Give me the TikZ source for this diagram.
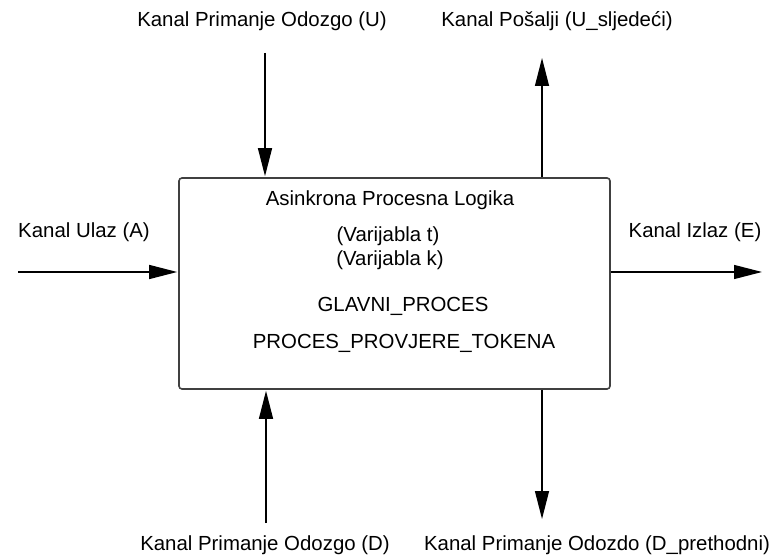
\documentclass[tikz,border=0pt]{standalone}
\usepackage{fontspec}
\setmainfont{Liberation Sans}
\usetikzlibrary{positioning,arrows.meta}

\begin{document}
\begin{tikzpicture}[x=0.5pt,y=-0.5pt,>={Triangle[length=14pt,width=7pt]},shorten >=0.5pt,
		lbl/.style={font=\fontsize{10.2}{12}\selectfont,inner sep=0pt,anchor=base},
		blk/.style={draw=black!75,line width=0.8pt,rounded corners=1.5pt,minimum width=215.5pt,minimum height=105.5pt},
		chan/.style={->,line width=0.65pt}]
		
		\useasboundingbox (0,0) rectangle (780,560);
		
		\node[blk] (logika) at (394.5,283.5) {};
		\node[lbl] (naslov)   at (390,206) {Asinkrona Procesna Logika};
		\node[lbl] (vart)     at (388,242) {(Varijabla t)};
		\node[lbl] (vark)     at (390,266) {(Varijabla k)};
		\node[lbl] (glavni)   at (403,312) {GLAVNI\_PROCES};
		\node[lbl] (provjera) at (404,349) {PROCES\_PROVJERE\_TOKENA};
		
		\node[lbl] (kanalU)  at (262,27)  {Kanal Primanje Odozgo (U)};
		\node[lbl] (kanalUs) at (557,27)  {Kanal Pošalji (U\_sljedeći)};
		\node[lbl] (kanalA)  at (84,238)  {Kanal Ulaz (A)};
		\node[lbl] (kanalE)  at (695,238) {Kanal Izlaz (E)};
		\node[lbl] (kanalD)  at (265,550) {Kanal Primanje Odozgo (D)};
		\node[lbl] (kanalDp) at (597,550) {Kanal Primanje Odozdo (D\_prethodni)};
		
		\coordinate (uIn)  at (265,53);
		\coordinate (uOut) at (542,57);
		\coordinate (aIn)  at (18,272);
		\coordinate (eOut) at (763,272);
		\coordinate (dIn)  at (266,523);
		\coordinate (dOut) at (542,520);
		
		\draw[chan] (uIn) -- (uIn |- logika.north);
		\draw[chan] (uOut |- logika.north) -- (uOut);
		\draw[chan] (aIn) -- (aIn -| logika.west);
		\draw[chan] (logika.east |- eOut) -- (eOut);
		\draw[chan] (dIn) -- (dIn |- logika.south);
		\draw[chan] (dOut |- logika.south) -- (dOut);
		
\end{tikzpicture}
\end{document}
